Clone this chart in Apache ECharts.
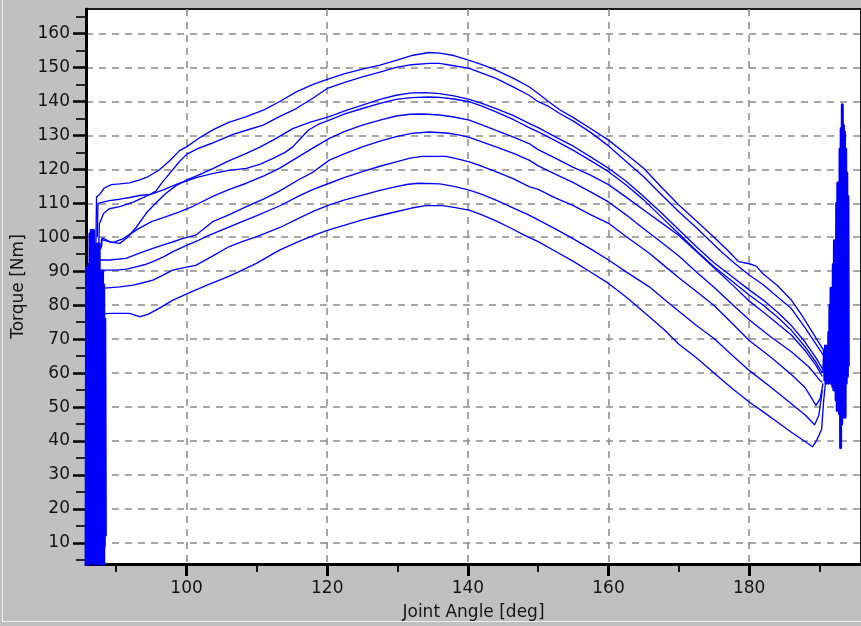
<!DOCTYPE html>
<html>
<head>
<meta charset="utf-8">
<script src="https://cdn.jsdelivr.net/npm/echarts@6/dist/echarts.min.js"></script>
<style>
html,body{margin:0;padding:0;background:#c0c0c0;}
#chart{width:861px;height:626px;}
</style>
</head>
<body>
<div id="chart"></div>
<script>
// ---- tick values ----
const xMajorTicks = [100, 120, 140, 160, 180];
const xMinorTicks = [90, 110, 130, 150, 170, 190];
const yMajorTicks = [10, 20, 30, 40, 50, 60, 70, 80, 90, 100, 110, 120, 130, 140, 150, 160];
const yMinorTicks = [5, 15, 25, 35, 45, 55, 65, 75, 85, 95, 105, 115, 125, 135, 145, 155, 165];

// ---- trials: [joint angle (deg), torque (Nm)] ----
const trial1 = [[87.1,97],[87.2,111.9],[87.6,112.5],[88.3,114.5],[89.3,115.5],[90.5,115.7],[91.9,116],[93.2,116.8],[94.5,117.8],[96.1,119.8],[97.6,122.5],[99,125.5],[100,126.6],[102,129.5],[103.8,131.7],[106,133.8],[108.5,135.5],[111,137.5],[113.2,139.9],[115.6,142.8],[118,145],[120,146.5],[122.5,148.2],[125,149.5],[127.5,150.7],[129.8,152.1],[132,153.5],[134.5,154.4],[136,154.2],[138,153.5],[140.2,152.1],[142,150.8],[144,149.2],[146.5,146.8],[148.7,144.3],[150,142.3],[151.5,139.9],[153,137.6],[155,135.2],[157,132.6],[160,128.6],[162.5,124.5],[165,120.3],[167.5,114.8],[170,109.5],[172.5,104.8],[175,100],[177,96],[178.5,92.8],[180,92.2],[181,91.5],[182,89.2],[184,85.8],[186,81.5],[187.5,77],[189,72],[190.5,67],[190.9,64]];
const trial2 = [[87.3,100],[87.4,110],[89,110.8],[90.5,111.2],[91.9,111.7],[93.3,112.3],[94.8,112.6],[95.6,113.5],[96.4,115.8],[97.6,118.8],[99,122.3],[100,124.4],[101.5,126],[103.5,127.6],[106.6,130.3],[108.5,131.5],[110.9,133],[113.2,135.5],[115.6,137.9],[118,141],[120,143.8],[122.5,145.6],[125,147.2],[127.5,148.6],[129.8,150],[132,150.8],[134.5,151.2],[136,151.2],[138,150.5],[140.2,149.7],[142,148.3],[144,146.8],[146.5,144.2],[148.7,141.8],[150,139.9],[151.5,138.5],[153,136.5],[155,134.2],[157.5,130.8],[160,126.9],[162.5,122.3],[165,117.8],[167.5,112.6],[170,107.5],[172.5,102.8],[174.3,99.2],[176,95.8],[178,92.2],[180,88.9],[182,86],[184,82.5],[186,79],[188,73.2],[189.5,68.5],[190.8,64.5]];
const trial3 = [[87.9,97],[88,99.8],[89.2,98.6],[90.5,98.2],[91.5,99.8],[92.8,102.8],[94.3,107.2],[95.6,110],[97,112.8],[98.5,115.2],[100,116.8],[102,118.6],[103.8,120.3],[106,122.5],[108.5,124.7],[110.5,126.6],[112.3,128.6],[115.1,132],[117.5,133.8],[120.3,135.5],[122.5,137.2],[125,138.9],[127.5,140.6],[129.8,141.8],[132,142.5],[134,142.6],[136,142.3],[138,141.6],[140.2,140.6],[142,139.4],[144,137.9],[146.5,135.8],[148.7,133.5],[150,132.3],[152.5,129.5],[155,126.8],[157.5,123.6],[160,120.3],[162.5,116.5],[165,112],[167.5,107.2],[170,102.2],[172.5,97.2],[175,92.5],[177.5,88.5],[180,84.5],[182,81.5],[184,78],[186,74],[188,69],[189.5,64.5],[190.5,61]];
const trial4 = [[87.5,96],[87.6,104],[88.2,107],[89,108.4],[90.5,109],[92.5,110.4],[94.5,112.3],[96.5,113.8],[99,115.9],[101.5,117.6],[103.8,118.8],[106,119.7],[108.5,120.3],[110.5,121.5],[112.3,123.2],[114,125],[115.1,126.6],[116.3,129.3],[117.3,131.5],[118.7,133.2],[120.3,134.5],[122.5,136.3],[125,137.9],[127.5,139.4],[129.8,140.6],[132,141.1],[134.5,141.3],[136,141.2],[138,140.7],[140.2,139.9],[142,138.6],[144,136.9],[146.5,134.6],[148.7,132.3],[150,131],[152.5,128.4],[155,125.6],[157.5,122.5],[160,119.3],[162.5,115.4],[165,111],[167.5,106],[170,101],[172.5,96],[175,91.3],[177.5,87.2],[180,83],[182,80],[184,76.5],[186,72.6],[188,67.6],[189.5,63.2],[190.4,60]];
const trial5 = [[87.8,96.5],[87.9,99.3],[89.5,98.4],[91,99.6],[93,102.3],[95,104.6],[97,106],[99,107.5],[101,109.2],[103.8,112.1],[106,114],[108.5,115.9],[111,118.1],[113.2,120.3],[116,123.8],[118,126.3],[120.3,129.1],[122.5,131.2],[125,133],[127.5,134.5],[129.8,135.7],[131.8,136.2],[133.6,136.3],[136,136],[138,135.4],[140.2,134.5],[142,133.1],[144,131.5],[146.5,129.5],[148.7,127.6],[150,125.8],[152.5,123.2],[155,120.6],[157.5,118.2],[160,115.5],[162.5,111.8],[165,108],[167.5,104.3],[170,100.5],[172.5,95.8],[175,91],[177.5,86.2],[180,81.2],[182,78],[184,74.6],[186,71.2],[188,66.5],[189.5,62.3],[190.4,59]];
const trial6 = [[87.5,88],[87.6,93.3],[89,93.3],[91.4,93.8],[93.3,95.3],[95,96.6],[96.6,97.7],[98,98.6],[99.4,99.6],[101.3,100.6],[103.8,104.7],[106,106.6],[108.5,109],[111,111.3],[113.2,113.6],[116,117],[118,119.2],[120.3,122.7],[122.5,124.6],[125,126.6],[127.5,128.3],[129.8,129.6],[132,130.6],[134.5,131],[136.9,130.7],[138.5,130.2],[140.2,129.4],[142,128.1],[144,126.6],[146.5,124.7],[148.7,122.7],[150,121],[152.5,118.5],[155,116.1],[157.5,113.3],[160,110.4],[162.5,106.6],[165,102.5],[167.1,99.2],[170,94.5],[172.5,89.8],[175,85.3],[177.5,80.4],[180,75.7],[183,70.8],[186,66.3],[188.5,61.8],[190,58],[190.4,57.3]];
const trial7 = [[87.7,84],[87.8,90.3],[90,90.3],[91.5,90.6],[92.8,91.3],[94,91.9],[95.2,92.8],[96.8,94.3],[98,95.7],[100,97.6],[101.5,98.9],[103,100.4],[106,103],[108.5,105.1],[110,106.4],[113.2,109.2],[116,112.2],[118,114.1],[120.3,115.9],[122.5,117.6],[125,119.3],[127.5,120.9],[129.8,122.2],[131.8,123.3],[133.5,123.8],[136.9,123.8],[138.5,123.1],[140.2,122.2],[142,120.9],[144,119.3],[146.5,117.2],[148.7,114.9],[150,114.1],[152.5,111.5],[155,109.3],[157.5,106.6],[160,104.1],[162.5,100.2],[165.8,95.3],[168,91.5],[170,88.1],[172.5,84],[175,79.9],[177.5,74.8],[180,69.6],[183,64.8],[186,59.6],[188,55.6],[189.5,50.5],[190.1,52.5],[190.5,57]];
const trial8 = [[88.2,80],[88.3,85],[90.5,85.4],[92.4,85.9],[93.8,86.6],[95.2,87.4],[96.6,88.8],[98,90.3],[100,91.2],[101.3,91.7],[103.5,94.2],[106,97.2],[108,98.8],[110,100.2],[113.2,102.8],[116,105.6],[118,107.6],[120.3,109.5],[122.5,111],[125,112.4],[127.5,113.8],[129.8,114.9],[131.5,115.6],[133,115.9],[136,115.7],[138,115],[140.2,113.9],[142,112.6],[144,110.9],[146.5,108.6],[148.7,106.5],[150,105.1],[152.5,102.4],[155,99.5],[157.5,96.5],[160,93.3],[162.5,89.8],[165.8,85.4],[168,81.6],[170,78.2],[172.5,74],[175,70.2],[177.5,65.4],[180,60.8],[183,56],[186,51],[188,47.6],[189.3,44.8],[189.9,47.5],[190.4,55]];
const trial9 = [[88.1,70],[88.3,77.5],[89.5,77.6],[91.9,77.6],[93.3,76.6],[94.5,77.3],[96.2,79.2],[98,81.4],[100.5,83.8],[103,86],[106,88.5],[108,90.4],[110,92.4],[113.2,96.2],[116,98.8],[118,100.5],[120,102],[122.5,103.6],[125,105.1],[127.5,106.4],[129.8,107.5],[132,108.6],[134,109.3],[136.4,109.3],[138,108.8],[140.2,108],[142,106.6],[144,104.8],[146,102.8],[148,100.6],[150,98.7],[152.5,95.8],[155,92.9],[157.5,89.7],[160,86.4],[162.5,82.4],[165.8,76.6],[168,72.6],[170,68.5],[172.5,64.5],[175,60],[177.5,55.6],[180,51.5],[182,48.6],[184,45.6],[186,42.6],[188,39.8],[189,38.3],[189.6,40.2],[190.3,43.5],[190.6,52],[190.9,58]];

// ---- sensor noise at the start and end of the motion ----
const leftNoiseAngle  = [85.72,85.80,85.88,85.96,86.04,86.12,86.20,86.28,86.36,86.44,86.52,86.60,86.68,86.76,86.84,86.92,87.00,87.08,87.16,87.24,87.32,87.40,87.48,87.56,87.64,87.72,87.80,87.88,87.96,88.04,88.12,88.20,88.28,88.36,88.44];
const leftNoiseTorque = [2,91,4,90,3,92,7,101,5,102,8,100,4,102,6,98,3,97,7,98,5,96,4,98,6,89,2,88,7,90,3,86,9,76,12];
const rightNoiseAngle  = [190.60,190.68,190.76,190.84,190.92,191.00,191.08,191.16,191.24,191.32,191.40,191.48,191.56,191.64,191.72,191.80,191.88,191.96,192.04,192.12,192.20,192.28,192.36,192.44,192.52,192.60,192.68,192.76,192.84,192.92,193.00,193.08,193.16,193.24,193.32,193.40,193.48,193.56,193.64,193.72,193.80,193.88,193.96,194.04,194.10];
const rightNoiseTorque = [60,66,58,68,57,67,59,68,57,72,58,80,57,85,59,84,56,92,55,99,58,97,52,110,49,116,53,114,48,126,38,132,45,139,47,133,50,131,47,126,57,119,59,112,62];

const trials = [trial1, trial2, trial3, trial4, trial5, trial6, trial7, trial8, trial9];
const zip = (xs, ys) => xs.map((x, i) => [x, ys[i]]);

const BLUE = '#0000ff';
const FONT = 'DejaVu Sans';
const TXT = '#141414';

const lineSeries = (data, w) => ({
  type: 'line', data: data, showSymbol: false, symbol: 'none', silent: true,
  xAxisIndex: 0, yAxisIndex: 0, clip: true,
  lineStyle: { color: BLUE, width: w, join: 'round' }
});

const series = [];
// left noise drawn first, as a filled block with a ragged top edge
series.push({
  type: 'line', data: zip(leftNoiseAngle, leftNoiseTorque), showSymbol: false, symbol: 'none', silent: true,
  xAxisIndex: 0, yAxisIndex: 0, clip: true, z: 1,
  lineStyle: { color: BLUE, width: 3.2, join: 'round' },
  areaStyle: { color: BLUE, opacity: 1, origin: 'start' }
});
trials.forEach(t => series.push(lineSeries(t, 1.35)));
series.push(lineSeries(zip(rightNoiseAngle, rightNoiseTorque), 3));

const X_MIN = 85.7, X_MAX = 195.9, Y_MIN = 3.8, Y_MAX = 167.2;
const grid = { left: 86, top: 9, right: -2, bottom: 62, show: true, backgroundColor: '#ffffff', borderColor: '#1a1a1a', borderWidth: 2 };
const dash = { color: '#8a8a8a', type: [7, 6], width: 1.5 };

const option = {
  backgroundColor: '#c0c0c0',
  animation: false,
  grid: grid,
  graphic: [
    { type: 'rect', shape: { x: 2, y: 0, width: 1, height: 622 }, style: { fill: '#ececec' } },
    { type: 'rect', shape: { x: 2, y: 621, width: 859, height: 1 }, style: { fill: '#ececec' } }
  ],
  xAxis: [
    {
      type: 'value', min: X_MIN, max: X_MAX, position: 'bottom',
      axisLine: { show: true, onZero: false, lineStyle: { color: '#000', width: 3 } },
      axisTick: { show: true, inside: false, length: 12, customValues: xMajorTicks, lineStyle: { color: '#000', width: 3 } },
      axisLabel: { show: true, customValues: xMajorTicks, margin: 16, color: TXT, fontFamily: FONT, fontSize: 17 },
      splitLine: { show: true, lineStyle: dash },
      name: 'Joint Angle [deg]', nameLocation: 'middle', nameGap: 40,
      nameTextStyle: { color: TXT, fontFamily: FONT, fontSize: 17 }
    },
    {
      type: 'value', min: X_MIN, max: X_MAX, position: 'bottom',
      axisLine: { show: false },
      axisTick: { show: true, inside: false, length: 8, customValues: xMinorTicks, lineStyle: { color: '#000', width: 1.8 } },
      axisLabel: { show: false },
      splitLine: { show: false }
    }
  ],
  yAxis: [
    {
      type: 'value', min: Y_MIN, max: Y_MAX, position: 'left',
      axisLine: { show: true, onZero: false, lineStyle: { color: '#000', width: 3 } },
      axisTick: { show: true, inside: false, length: 13, customValues: yMajorTicks, lineStyle: { color: '#000', width: 2.5 } },
      axisLabel: { show: true, customValues: yMajorTicks, margin: 16, color: TXT, fontFamily: FONT, fontSize: 17 },
      splitLine: { show: true, lineStyle: dash },
      name: 'Torque [Nm]', nameLocation: 'middle', nameGap: 59,
      nameTextStyle: { color: TXT, fontFamily: FONT, fontSize: 17 }
    },
    {
      type: 'value', min: Y_MIN, max: Y_MAX, position: 'left',
      axisLine: { show: false },
      axisTick: { show: true, inside: false, length: 10, customValues: yMinorTicks, lineStyle: { color: '#000', width: 1.6 } },
      axisLabel: { show: false },
      splitLine: { show: false }
    }
  ],
  series: series
};

const chart = echarts.init(document.getElementById('chart'), null, { renderer: 'canvas' });
chart.setOption(option);
</script>
</body>
</html>
